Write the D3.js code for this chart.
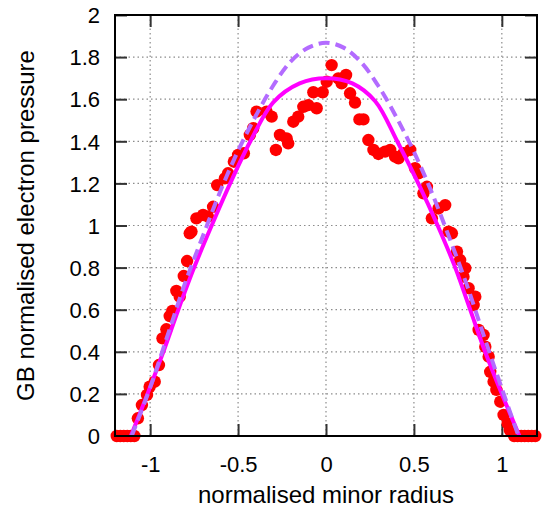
<!DOCTYPE html>
<html>
<head>
<meta charset="utf-8">
<script src="https://cdn.jsdelivr.net/npm/d3@7"></script>
<style>
  html, body { margin: 0; padding: 0; background: #fff; }
  svg { display: block; }
  text { font-family: "Liberation Sans", Arial, sans-serif; fill: #000; }
</style>
</head>
<body>
<svg id="chart" width="544" height="515"></svg>
<script>
// ---- data ----
const xTicks = [-1, -0.5, 0, 0.5, 1];
const xTickLabels = ["-1", "-0.5", "0", "0.5", "1"];
const yTicks = [0, 0.2, 0.4, 0.6, 0.8, 1, 1.2, 1.4, 1.6, 1.8, 2];
const yTickLabels = ["0", "0.2", "0.4", "0.6", "0.8", "1", "1.2", "1.4", "1.6", "1.8", "2"];

const measX = [-1.19, -1.17, -1.15, -1.13, -1.11, -1.09,
  -1.07, -1.047, -1.018, -1.003, -0.974, -0.95, -0.93, -0.908, -0.889, -0.874,
  -0.851, -0.832, -0.809, -0.79, -0.775, -0.765, -0.737, -0.699, -0.671, -0.642,
  -0.619, -0.575, -0.557, -0.524, -0.5, -0.467, -0.433, -0.414, -0.395, -0.338,
  -0.309, -0.285, -0.262, -0.224, -0.215, -0.186, -0.158, -0.129, -0.101, -0.053,
  -0.072, -0.019, 0.004, 0.032, 0.07, 0.089, 0.114, 0.137, 0.165, 0.19,
  0.213, 0.241, 0.27, 0.298, 0.336, 0.365, 0.393, 0.412, 0.44, 0.479,
  0.507, 0.526, 0.554, 0.574, 0.602, 0.64, 0.678, 0.697, 0.716, 0.745,
  0.763, 0.792, 0.782, 0.811, 0.849, 0.84, 0.868, 0.896, 0.906, 0.925,
  0.934, 0.953, 0.969, 0.991, 1.01, 1.033, 1.045,
  1.07, 1.09, 1.11, 1.13, 1.15, 1.17, 1.19];
const measY = [0, 0, 0, 0, 0, 0,
  0.084, 0.147, 0.195, 0.234, 0.258, 0.337, 0.464, 0.507, 0.57, 0.594,
  0.689, 0.662, 0.76, 0.831, 0.963, 0.971, 1.034, 1.05, 1.042, 1.089,
  1.192, 1.224, 1.248, 1.303, 1.335, 1.343, 1.43, 1.462, 1.541, 1.541,
  1.517, 1.359, 1.43, 1.414, 1.39, 1.493, 1.517, 1.564, 1.572, 1.557,
  1.633, 1.633, 1.683, 1.762, 1.699, 1.675, 1.715, 1.628, 1.584, 1.504,
  1.504, 1.406, 1.359, 1.34, 1.351, 1.359, 1.327, 1.319, 1.343, 1.359,
  1.272, 1.248, 1.153, 1.184, 1.034, 1.081, 1.097, 0.971, 0.963, 0.876,
  0.836, 0.797, 0.757, 0.702, 0.662, 0.622, 0.504, 0.48, 0.424, 0.377,
  0.305, 0.258, 0.219, 0.163, 0.1, 0.06, 0.028,
  0, 0, 0, 0, 0, 0, 0];

const fitX = [-1.11, -1.015, -0.925, -0.84, -0.75, -0.65, -0.545, -0.43, -0.3, -0.15, 0,
  0.15, 0.28, 0.405, 0.525, 0.635, 0.735, 0.82, 0.905, 1.0, 1.1];
const fitY = [0, 0.2, 0.4, 0.6, 0.8, 1.0, 1.2, 1.4, 1.585, 1.675, 1.70,
  1.675, 1.59, 1.4, 1.2, 1.0, 0.8, 0.6, 0.4, 0.2, 0];

const predX = [-1.105, -1.0, -0.9, -0.8, -0.7, -0.6, -0.5, -0.4, -0.3, -0.2, -0.1, 0,
  0.1, 0.2, 0.3, 0.4, 0.5, 0.6, 0.7, 0.8, 0.9, 1.0, 1.095];
const predY = [0, 0.23, 0.48, 0.73, 0.95, 1.165, 1.355, 1.52, 1.665, 1.78, 1.845, 1.868,
  1.845, 1.775, 1.66, 1.515, 1.35, 1.16, 0.945, 0.72, 0.47, 0.225, 0];

const xLabel = "normalised minor radius";
const yLabel = "GB normalised electron pressure";

// ---- drawing ----
const svg = d3.select("#chart");
const pLeft = 115, pRight = 537, pTop = 15, pBottom = 436;

const x = d3.scaleLinear().domain([-1.2, 1.2]).range([pLeft, pRight]);
const y = d3.scaleLinear().domain([0, 2]).range([pBottom, pTop]);

// grid
const grid = svg.append("g");
grid.selectAll("line.gx").data(xTicks).join("line")
  .attr("x1", d => x(d)).attr("x2", d => x(d))
  .attr("y1", pTop).attr("y2", pBottom)
  .attr("stroke", "#8c8c8c").attr("stroke-width", 1.2).attr("stroke-dasharray", "1.5,3");
grid.selectAll("line.gy").data(yTicks.filter(d => d > 0 && d < 2)).join("line")
  .attr("y1", d => y(d)).attr("y2", d => y(d))
  .attr("x1", pLeft).attr("x2", pRight)
  .attr("stroke", "#8c8c8c").attr("stroke-width", 1.2).attr("stroke-dasharray", "1.5,3");

// axes with inward ticks on all four sides
const tickLen = 12;
const axB = svg.append("g").attr("transform", `translate(0,${pBottom})`)
  .call(d3.axisBottom(x).tickValues(xTicks).tickSize(-tickLen).tickFormat((d, i) => xTickLabels[i]).tickPadding(20));
const axT = svg.append("g").attr("transform", `translate(0,${pTop})`)
  .call(d3.axisTop(x).tickValues(xTicks).tickSize(-tickLen).tickFormat(""));
const axL = svg.append("g").attr("transform", `translate(${pLeft},0)`)
  .call(d3.axisLeft(y).tickValues(yTicks).tickSize(-tickLen).tickFormat((d, i) => yTickLabels[i]).tickPadding(15));
const axR = svg.append("g").attr("transform", `translate(${pRight},0)`)
  .call(d3.axisRight(y).tickValues(yTicks).tickSize(-tickLen).tickFormat(""));

[axB, axT, axL, axR].forEach(a => {
  a.select(".domain").remove();
  a.selectAll(".tick line").attr("stroke", "#333").attr("stroke-width", 2);
  a.selectAll(".tick text").style("font-family", '"Liberation Sans", Arial, sans-serif')
    .style("font-size", "22px").attr("fill", "#000");
});
axL.selectAll(".tick text").attr("dy", "0.35em");
axB.selectAll(".tick text").attr("dy", "0.71em");

// data
const measData = measX.map((v, i) => [v, measY[i]]);
const fitData = fitX.map((v, i) => [v, fitY[i]]);
const predData = predX.map((v, i) => [v, predY[i]]);

svg.append("g").selectAll("circle").data(measData).join("circle")
  .attr("cx", d => x(d[0])).attr("cy", d => y(d[1])).attr("r", 6.2)
  .attr("fill", "#ff0000");

const line = d3.line().x(d => x(d[0])).y(d => y(d[1])).curve(d3.curveCatmullRom.alpha(0.5));

svg.append("path").datum(fitData).attr("d", line)
  .attr("fill", "none").attr("stroke", "#ff00ff").attr("stroke-width", 4);

svg.append("path").datum(predData).attr("d", line)
  .attr("fill", "none").attr("stroke", "#b36bff").attr("stroke-width", 4)
  .attr("stroke-dasharray", "11,6");

// frame
svg.append("rect").attr("x", pLeft).attr("y", pTop)
  .attr("width", pRight - pLeft).attr("height", pBottom - pTop)
  .attr("fill", "none").attr("stroke", "#000").attr("stroke-width", 2);

// axis labels
svg.append("text").attr("x", (pLeft + pRight) / 2).attr("y", 503)
  .attr("text-anchor", "middle").style("font-size", "24px").text(xLabel);
svg.append("text")
  .attr("transform", `translate(34,${(pTop + pBottom) / 2}) rotate(-90)`)
  .attr("text-anchor", "middle").style("font-size", "24px").text(yLabel);
</script>
</body>
</html>
